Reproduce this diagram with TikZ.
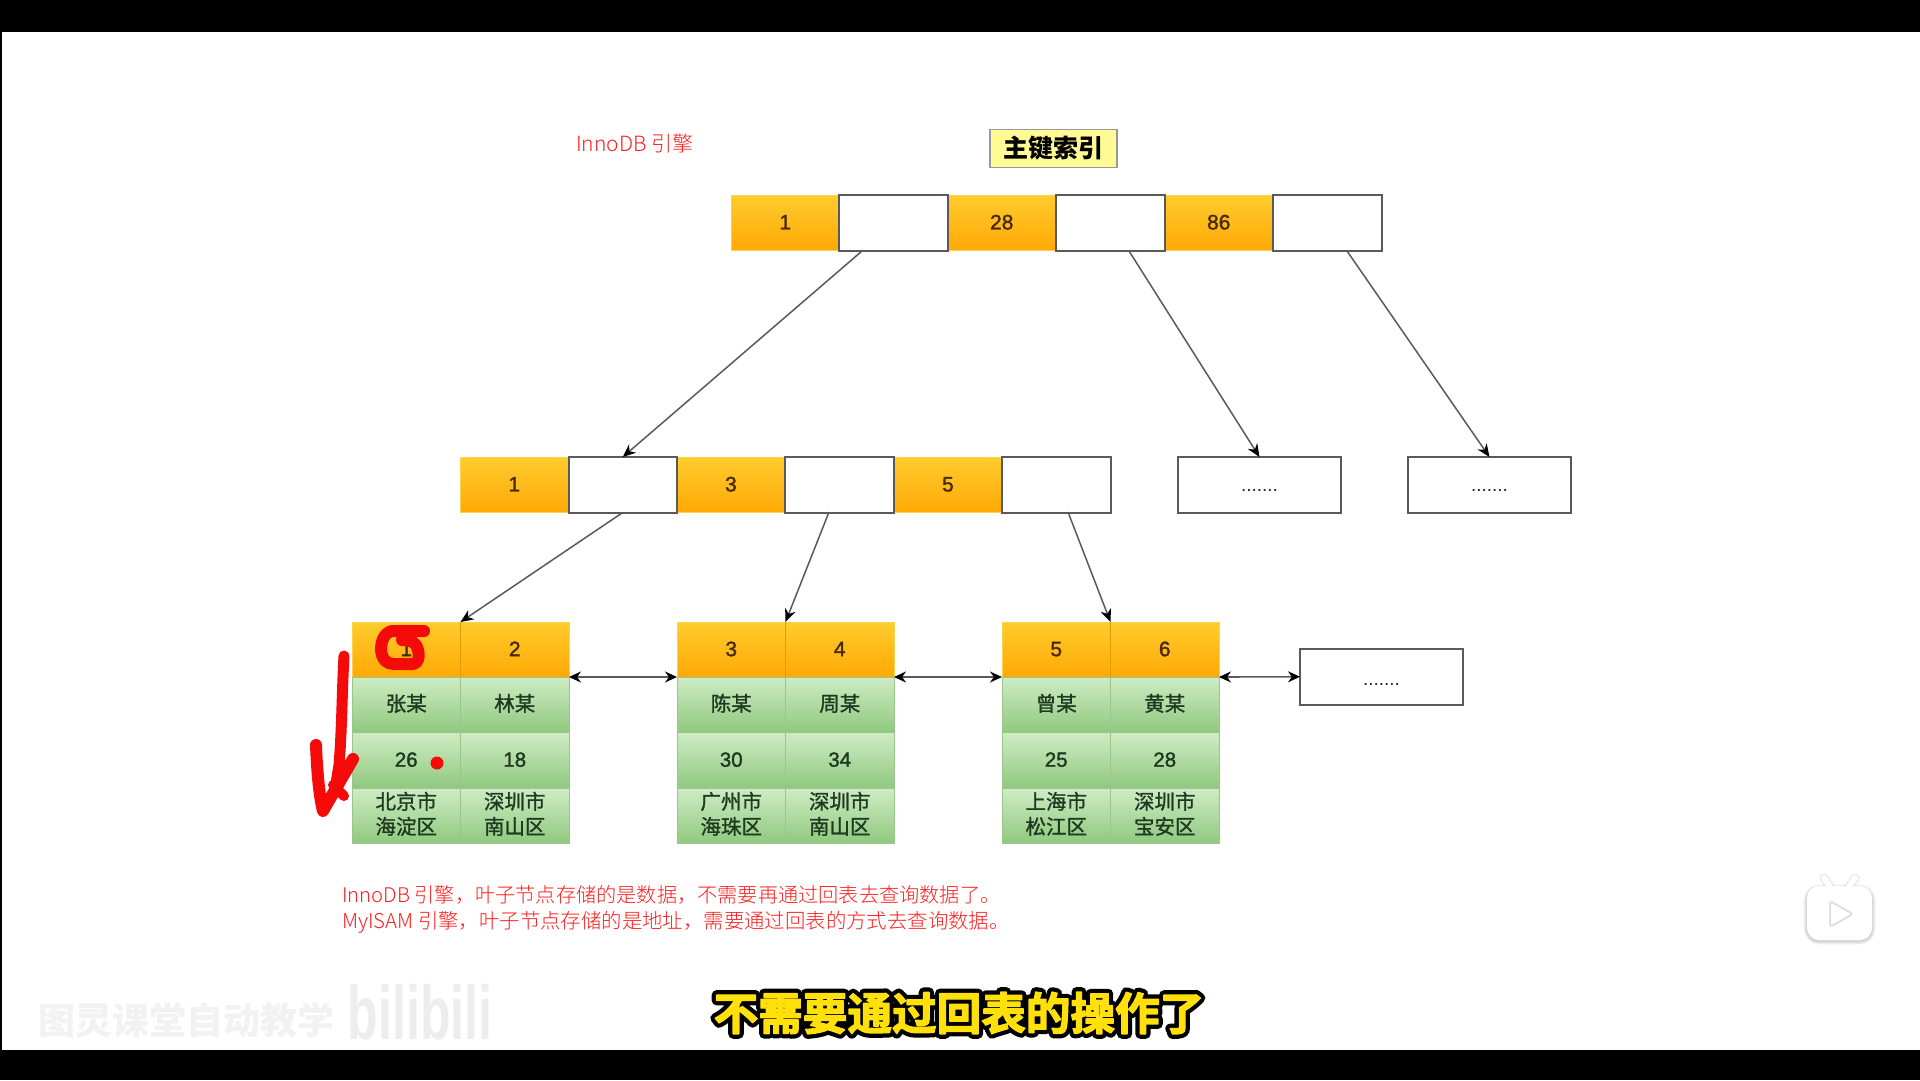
\documentclass[tikz,border=0pt]{standalone}
\usepackage{fontspec}
\setmainfont{Liberation Sans}
\newfontfamily\cjk{Noto Sans CJK SC}
\newfontfamily\cjklight{Noto Sans CJK SC Light}
\newfontfamily\cjkmed[FakeBold=1.2]{Noto Sans CJK SC}
\newfontfamily\nummed[FakeBold=1.6]{Liberation Sans}
\newfontfamily\cjkheavy[FakeBold=3]{Noto Sans CJK SC Bold}
\newfontfamily\cjkouter[FakeBold=22]{Noto Sans CJK SC Bold}
\newcommand{\addr}[2]{\cjkmed #1\\\cjkmed #2\\[-20pt]\mbox{}}
\newcommand{\sevendots}[1]{\smash{\raisebox{#1}{.......}}}
\definecolor{ortop}{HTML}{FFCC2E}
\definecolor{orbot}{HTML}{FFA905}
\definecolor{oredge}{HTML}{FFD24D}
\definecolor{ordiv}{HTML}{E39B00}
\definecolor{grtop}{HTML}{CFECC4}
\definecolor{grbot}{HTML}{90C97F}
\definecolor{gredge}{HTML}{9CC48D}
\definecolor{wire}{HTML}{5A5A5A}
\definecolor{redtxt}{HTML}{FF1E1E}
\definecolor{pen}{HTML}{F50A0A}
\definecolor{numor}{HTML}{4A2A05}
\definecolor{numgr}{HTML}{1E3A20}
\usetikzlibrary{arrows.meta,calc}
\tikzset{
  cellbase/.style={anchor=north west,inner sep=0pt,outer sep=0pt,align=center},
  orcell/.style={cellbase,minimum width=#1,top color=ortop,bottom color=orbot,draw=oredge,line width=.6pt,text=numor,text height=13.4pt,text depth=0pt,font=\nummed\fontsize{21}{24}\selectfont},
  orcell/.default=108.5pt,
  whcell/.style={cellbase,minimum width=#1,fill=white,draw=wire,line width=2pt},
  whcell/.default=108.5pt,
  grcell/.style={cellbase,minimum width=108.5pt,top color=grtop,bottom color=grbot,draw=gredge,line width=.8pt,text=numgr,font=\nummed\fontsize{20.5}{25}\selectfont},
  grone/.style={grcell,text height=13.4pt,text depth=0pt},
  link/.style={draw=wire,line width=1.5pt,-{Stealth[length=13pt,width=11pt,color=black]}},
  sidelink/.style={draw=wire,line width=1.6pt,{Stealth[length=12pt,width=11pt,color=black]}-{Stealth[length=12pt,width=11pt,color=black]}},
  redline/.style={anchor=west,inner sep=0pt,text=redtxt,font=\cjklight\fontsize{20.2}{24}\selectfont},
  penline/.style={draw=pen,line width=12pt,line cap=round,line join=round},
  dotsbox/.style={whcell=163pt,text=black!85,font=\fontsize{19}{20}\selectfont},
  divider/.style={draw=#1,line width=.8pt},
}
\begin{document}
\begin{tikzpicture}[x=1pt,y=-1pt]
\useasboundingbox (0,0) rectangle (1920,1080);
\fill[white] (0,0) rectangle (1920,1080);
\fill[black] (0,0) rectangle (1920,32);
\fill[black] (0,1050) rectangle (1920,1080);
\fill[black] (0,32) rectangle (2,1050);

% title and engine label
\node[redline,font=\cjklight\fontsize{21}{24}\selectfont] (engine) at (576,143) {InnoDB 引擎};
\node[draw=black!40,line width=1.6pt,fill=yellow!42,minimum width=127pt,minimum height=38pt,inner sep=0pt,font=\cjk\bfseries\fontsize{25}{28}\selectfont] (title) at (1053.5,148.5) {主键索引};

% root row
\begin{scope}[every node/.append style={minimum height=55.5pt}]
\node[orcell] (r1) at (731,195) {1};
\node[orcell] (r3) at (947.5,195) {28};
\node[orcell] (r5) at (1164.5,195) {86};
\node[whcell] (r2) at (839.3,195) {};
\node[whcell] (r4) at (1056,195) {};
\node[whcell] (r6) at (1273,195) {};
% middle row
\node[orcell] (m1) at (460,457) {1};
\node[orcell] (m3) at (676.7,457) {3};
\node[orcell] (m5) at (893.7,457) {5};
\node[whcell] (m2) at (568.5,457) {};
\node[whcell] (m4) at (785.2,457) {};
\node[whcell] (m6) at (1002,457) {};
\node[dotsbox] (m7) at (1178,457) {\sevendots{-7pt}};
\node[dotsbox] (m8) at (1408,457) {\sevendots{-7pt}};
\node[dotsbox] (n1) at (1300,649) {\sevendots{-8.5pt}};
\end{scope}

% leaves
\begin{scope}[every node/.append style={minimum height=55pt}]
\node[orcell] (a1) at (352,622) {1};
\node[orcell] (a2) at (460.5,622) {2};
\node[grone] (a3) at (352,677) {\cjkmed 张某};
\node[grone] (a4) at (460.5,677) {\cjkmed 林某};
\node[grone] (a5) at (352,732.5) {26};
\node[grone] (a6) at (460.5,732.5) {18};
\node[grcell] (a7) at (352,788) {\addr{北京市}{海淀区}};
\node[grcell] (a8) at (460.5,788) {\addr{深圳市}{南山区}};
\node[orcell] (b1) at (677,622) {3};
\node[orcell] (b2) at (785.5,622) {4};
\node[grone] (b3) at (677,677) {\cjkmed 陈某};
\node[grone] (b4) at (785.5,677) {\cjkmed 周某};
\node[grone] (b5) at (677,732.5) {30};
\node[grone] (b6) at (785.5,732.5) {34};
\node[grcell] (b7) at (677,788) {\addr{广州市}{海珠区}};
\node[grcell] (b8) at (785.5,788) {\addr{深圳市}{南山区}};
\node[orcell] (c1) at (1002,622) {5};
\node[orcell] (c2) at (1110.5,622) {6};
\node[grone] (c3) at (1002,677) {\cjkmed 曾某};
\node[grone] (c4) at (1110.5,677) {\cjkmed 黄某};
\node[grone] (c5) at (1002,732.5) {25};
\node[grone] (c6) at (1110.5,732.5) {28};
\node[grcell] (c7) at (1002,788) {\addr{上海市}{松江区}};
\node[grcell] (c8) at (1110.5,788) {\addr{深圳市}{宝安区}};
\end{scope}
\draw[divider=ordiv] (a1.north east) -- (a1.south east);
\draw[divider=ordiv] (b1.north east) -- (b1.south east);
\draw[divider=ordiv] (c1.north east) -- (c1.south east);

% connectors
\coordinate (sr2) at (862,251);
\coordinate (sr4) at (1129,251);
\coordinate (sr6) at (1347,251);
\coordinate (sm4) at (829,512);
\coordinate (sm6) at (1068,512);
\draw[link] (sr2) -- (m2.north);
\draw[link] (sr4) -- (m7.north);
\draw[link] (sr6) -- (m8.north);
\draw[link] (m2.south) -- (a2.north west);
\draw[link] (sm4) -- (b2.north west);
\draw[link] (sm6) -- (c2.north west);
\draw[sidelink] (a2.south east) -- (b1.south west);
\draw[sidelink] (b2.south east) -- (c1.south west);
\draw[sidelink] (c2.south east) -- (n1.west);

% pen marks
\draw[penline] (424,631) -- (392,631) .. controls (384,633) and (381,641) .. (381,650) .. controls (382,660) and (387,664) .. (394,664) -- (413,664) .. controls (420,663) and (420,652) .. (416,645) .. controls (412,640) and (406,640) .. (402,640);
\draw[penline,line width=11pt] (344,656) .. controls (342,690) and (342,730) .. (339,765) -- (335,790);
\draw[penline,line width=12pt] (316,745) .. controls (317,770) and (319,795) .. (323,811) -- (335,790) -- (353,759);
\draw[penline,line width=10pt] (333,785) -- (344,796);
\fill[pen] (437,763) circle (6.5);

% notes
\node[redline] (note1) at (342,895) {InnoDB 引擎，叶子节点存储的是数据，不需要再通过回表去查询数据了。};
\node[redline,font=\cjklight\fontsize{20.4}{24}\selectfont] (note2) at (342,922) {MyISAM 引擎，叶子节点存储的是地址，需要通过回表的方式去查询数据。};

% watermark
\node[inner sep=0pt,text=black!5,font=\cjk\bfseries\fontsize{37}{40}\selectfont] (wm) at (186,1020) {图灵课堂自动教学};
\node[inner sep=0pt,text=black!7,font=\bfseries\fontsize{40}{40}\selectfont] (wb) at (420,1012) {\scalebox{1.25}[1.9]{bilibili}};

% subtitle
\begin{scope}[line join=round,line cap=round]
\node[inner sep=0pt,text=black,font=\cjkouter\fontsize{44.6}{48}\selectfont] (subo) at (959,1013) {不需要通过回表的操作了};
\node[inner sep=0pt,text={rgb,255:red,255;green,224;blue,10},font=\cjkheavy\fontsize{44.6}{48}\selectfont] (subi) at (959,1013) {不需要通过回表的操作了};
\end{scope}

% tv icon
\foreach \g in {5,4,3,2,1}
  \draw[black,opacity=.035,line width=\g pt*1.4,line cap=round,line join=round,rounded corners=12pt] (1807,888) rectangle (1872,941);
\foreach \g in {3,2,1}{
  \draw[black,opacity=.04,line width=5pt+\g pt*1.6,line cap=round] (1824,878) -- (1831,888);
  \draw[black,opacity=.04,line width=5pt+\g pt*1.6,line cap=round] (1855,878) -- (1848,888);
}
\draw[white,line width=6pt,line cap=round] (1824,878) -- (1831,888);
\draw[white,line width=6pt,line cap=round] (1855,878) -- (1848,888);
\fill[white,rounded corners=12pt] (1807,886) rectangle (1872,940);
\draw[draw=black!15,line width=1.5pt,fill=white,rounded corners=3pt] (1830,901) -- (1853,914) -- (1830,927) -- cycle;
\end{tikzpicture}
\end{document}
